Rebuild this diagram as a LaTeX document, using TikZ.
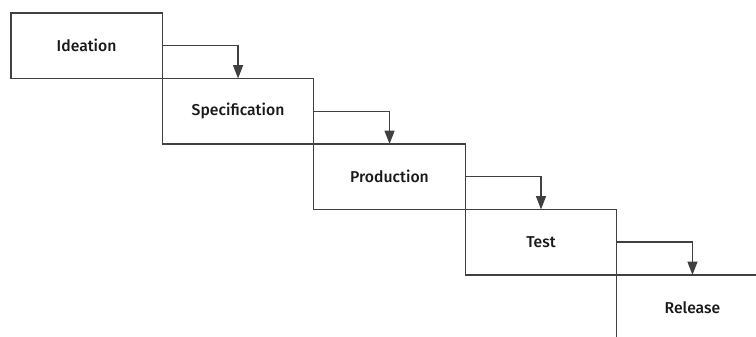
\documentclass[tikz,border=0pt]{standalone}
\usepackage{fontspec}
\setmainfont{Fira Sans}[UprightFont=* Medium]
\usetikzlibrary{arrows.meta, positioning}

\tikzset{
    stage/.style={draw=black!75, line width=1pt, outer sep=0pt, minimum width=113.6pt, minimum height=49.1pt, font=\fontsize{11.8}{13}\selectfont, text=black!90},
    flow/.style={draw=black!75, line width=1pt, -{Triangle[width=7.5pt,length=10pt]}}
}

\begin{document}
\begin{tikzpicture}[x=0.75pt, y=-0.75pt]
    \useasboundingbox (0,0) rectangle (756,336);

    \node[stage] (ideation) at (86.6,45.75) {Ideation};
    \node[stage, below right=0pt and 0pt of ideation] (spec) {Specification};
    \node[stage, below right=0pt and 0pt of spec] (prod) {Production};
    \node[stage, below right=0pt and 0pt of prod] (test) {Test};
    \node[stage, below right=0pt and 0pt of test] (release) {Release};

    \draw[flow] (ideation.east) -| (spec.north);
    \draw[flow] (spec.east) -| (prod.north);
    \draw[flow] (prod.east) -| (test.north);
    \draw[flow] (test.east) -| (release.north);
\end{tikzpicture}
\end{document}
